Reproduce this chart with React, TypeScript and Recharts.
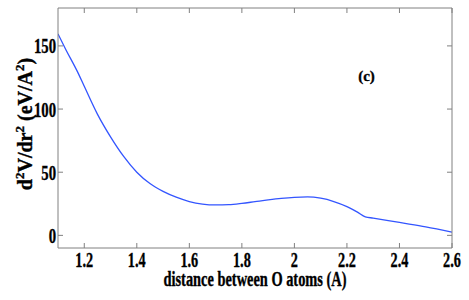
import { LineChart, Line, XAxis, YAxis } from 'recharts'

// distance between O atoms (A)
const distance = [
  1.1, 1.13, 1.173, 1.2, 1.25, 1.3, 1.35, 1.4, 1.45, 1.5, 1.55, 1.6, 1.65, 1.7, 1.75,
  1.8, 1.85, 1.9, 1.95, 2.0, 2.05, 2.1, 2.15, 2.2, 2.24, 2.27, 2.3, 2.4, 2.5, 2.6,
]
// d2V/dr2 (eV/A^2)
const curvature = [
  159.5, 147, 130, 118, 96, 78, 62.5, 50, 41, 34.8, 30.2, 26.8, 24.8, 24.1, 24.3,
  25.3, 26.7, 28.1, 29.3, 30.1, 30.4, 29.4, 26.8, 22.8, 18.4, 14.7, 13.7, 10.2, 6.8, 2.6,
]
const xTicks = [1.2, 1.4, 1.6, 1.8, 2.0, 2.2, 2.4, 2.6]
const yTicks = [0, 50, 100, 150]

const data = distance.map((x, i) => ({ x, y: curvature[i] }))

const FONT = '"Liberation Serif", "Times New Roman", serif'
const AXIS = '#808080'

// text in the original is a heavy, narrow bold serif
const heavy = { stroke: '#000', strokeWidth: 0.35 }

function XTick({ x, y, payload }: any) {
  return (
    <text
      transform={`translate(${x},${y}) scale(0.65,1)`}
      textAnchor="middle"
      fontFamily={FONT}
      fontWeight="bold"
      fontSize={22}
      fill="#000"
      {...heavy}
    >
      {String(payload.value)}
    </text>
  )
}

function YTick({ x, y, payload }: any) {
  return (
    <text
      transform={`translate(${x},${y + 7.5}) scale(0.67,1)`}
      textAnchor="end"
      fontFamily={FONT}
      fontWeight="bold"
      fontSize={22}
      fill="#000"
      {...heavy}
    >
      {String(payload.value)}
    </text>
  )
}

function XTitle() {
  return (
    <text
      transform="translate(255,286) scale(0.72,1)"
      textAnchor="middle"
      fontFamily={FONT}
      fontWeight="bold"
      fontSize={20}
      fill="#000"
      {...heavy}
    >
      distance between O atoms (A)
    </text>
  )
}

function YTitle() {
  return (
    <text
      transform="translate(32,124) rotate(-90)"
      textAnchor="middle"
      fontFamily={FONT}
      fontWeight="bold"
      fontSize={20}
      fill="#000"
      {...heavy}
    >
      d<tspan dy={-8} fontSize={13}>2</tspan>
      <tspan dy={8}>V/dr</tspan>
      <tspan dy={-8} fontSize={13}>2</tspan>
      <tspan dy={8}> (eV/A</tspan>
      <tspan dy={-8} fontSize={13}>2</tspan>
      <tspan dy={8}>)</tspan>
    </text>
  )
}

function PanelTag() {
  return (
    <text x={366.5} y={80.5} textAnchor="middle" fontFamily={FONT} fontWeight="bold" fontSize={15} fill="#000" {...heavy}>
      (c)
    </text>
  )
}

export default function App() {
  return (
    <div style={{ position: 'absolute', left: 0, top: 0, width: 469, height: 300, background: '#fff' }}>
      <LineChart width={469} height={300} data={data} margin={{ top: 0, right: 0, bottom: 0, left: 0 }}>
        <XAxis
          xAxisId="bottom"
          dataKey="x"
          type="number"
          domain={[1.1, 2.6]}
          ticks={xTicks}
          allowDataOverflow
          height={52}
          tickSize={-5}
          tickMargin={24}
          tick={<XTick />}
          axisLine={{ stroke: AXIS }}
          tickLine={{ stroke: AXIS }}
          label={<XTitle />}
        />
        <XAxis
          xAxisId="top"
          orientation="top"
          dataKey="x"
          type="number"
          domain={[1.1, 2.6]}
          ticks={xTicks}
          allowDataOverflow
          height={8}
          tickSize={-5}
          tickFormatter={() => ''}
          axisLine={{ stroke: AXIS }}
          tickLine={{ stroke: AXIS }}
          label={<PanelTag />}
        />
        <YAxis
          yAxisId="left"
          domain={[-10, 180]}
          ticks={yTicks}
          allowDataOverflow
          width={58}
          tickSize={-5}
          tickMargin={7}
          tick={<YTick />}
          axisLine={{ stroke: AXIS }}
          tickLine={{ stroke: AXIS }}
          label={<YTitle />}
        />
        <YAxis
          yAxisId="right"
          orientation="right"
          domain={[-10, 180]}
          ticks={yTicks}
          allowDataOverflow
          width={17}
          tickSize={-5}
          tickFormatter={() => ''}
          axisLine={{ stroke: AXIS }}
          tickLine={{ stroke: AXIS }}
        />
        <Line
          xAxisId="bottom"
          yAxisId="left"
          type="monotone"
          dataKey="y"
          stroke="#3355ff"
          strokeWidth={1.3}
          dot={false}
          isAnimationActive={false}
        />
      </LineChart>
    </div>
  )
}
